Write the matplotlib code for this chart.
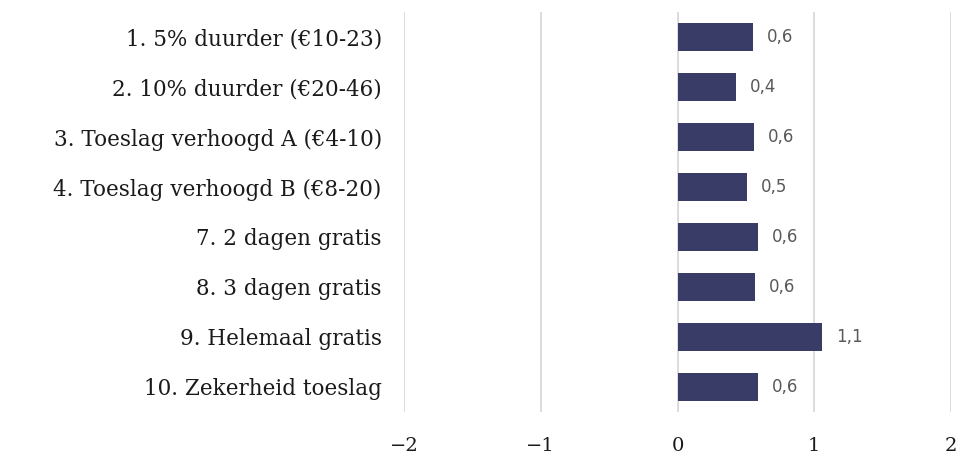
import matplotlib.pyplot as plt

labels = [
    "1. 5% duurder (€10-23)",
    "2. 10% duurder (€20-46)",
    "3. Toeslag verhoogd A (€4-10)",
    "4. Toeslag verhoogd B (€8-20)",
    "7. 2 dagen gratis",
    "8. 3 dagen gratis",
    "9. Helemaal gratis",
    "10. Zekerheid toeslag",
]
values = [0.55, 0.43, 0.56, 0.51, 0.59, 0.57, 1.06, 0.59]
xticks = [-2, -1, 0, 1, 2]
xtick_labels = ["\u22122", "\u22121", "0", "1", "2"]

fig = plt.figure(figsize=(9.57, 4.55), dpi=100)
ax = fig.add_axes([404 / 957, 43 / 455, 547 / 957, 400 / 455])

y = list(range(len(labels)))
ax.barh(y, values, height=0.56, color="#383c66", zorder=3)
for yi, v in zip(y, values):
    ax.text(v + 0.1, yi, f"{v:.1f}".replace(".", ","), va="center", ha="left",
            fontsize=12, color="#595959", family="DejaVu Sans")

ax.set_ylim(len(labels) - 0.5, -0.5)
ax.set_xlim(-2, 2)
ax.set_yticks(y)
ax.set_yticklabels(labels, fontsize=15.5, family="DejaVu Serif", color="#1a1a1a")
ax.set_xticks(xticks)
ax.set_xticklabels(xtick_labels, fontsize=14, family="DejaVu Serif", color="#1a1a1a")
ax.tick_params(axis="both", length=0)
ax.tick_params(axis="x", pad=18)
ax.tick_params(axis="y", pad=16)
ax.grid(axis="x", color="#d9d9d9", linewidth=1.3, zorder=0)
for s in ax.spines.values():
    s.set_visible(False)

fig.savefig("out.png", dpi=100)
